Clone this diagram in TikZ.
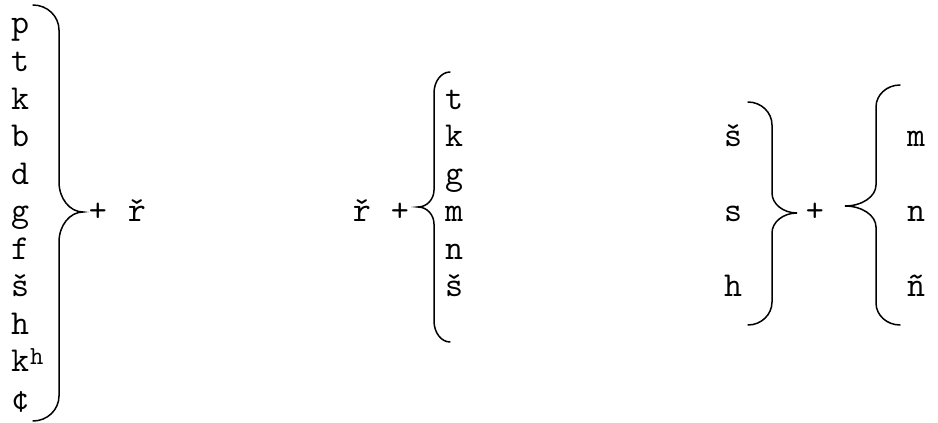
\documentclass[tikz,border=0pt]{standalone}
\usepackage{fontspec}
\begin{document}
\begin{tikzpicture}[x=1pt,y=-1pt,
  lt/.style={inner sep=0pt, anchor=base west, font=\ttfamily\fontsize{35}{37.5}\selectfont},
  op/.style={inner sep=0pt, anchor=base, font=\ttfamily\fontsize{35}{37.5}\selectfont},
  brc/.style={line width=1.5pt, line cap=round}]
\useasboundingbox (0,0) rectangle (938,423);
% brace macro: x0 xs xt y0 ym y1 r1 r2
\newcommand\mybrace[8]{%
 \draw[brc] (#1,#4) .. controls ({#1+0.55*(#2-#1)},#4) and (#2,{#4+0.45*#7}) .. (#2,{#4+#7})
   -- (#2,{#5-#8}) .. controls (#2,{#5-0.45*#8}) and ({#3-0.55*(#3-#2)},#5) .. (#3,#5)
   .. controls ({#3-0.55*(#3-#2)},#5) and (#2,{#5+0.45*#8}) .. (#2,{#5+#8})
   -- (#2,{#6-#7}) .. controls (#2,{#6-0.45*#7}) and ({#1+0.55*(#2-#1)},#6) .. (#1,#6);}
\newcommand\mysup[1]{\kern1pt\raisebox{7pt}{\ttfamily\fontsize{26}{26}\selectfont #1}}
% left group
\foreach \t [count=\i from 0] in {p,t,k,b,d,g,f,š,h,k\mysup{h},¢}
  \node[lt] (l\i) at (11,{34+37.5*\i}) {\t};
\mybrace{33}{59}{83}{5}{212}{421}{25}{30}
\node[op] (lplus) at (98,221.5) {+};
\node[op] (lr) at (137,221.5) {ř};
% middle group
\node[op] (mr) at (362,221.5) {ř};
\node[op] (mplus) at (400,221.5) {+};
\mybrace{450}{434}{418}{72}{207}{342}{21}{17}
\foreach \t [count=\i from 0] in {t,k,g,m,n,š}
  \node[lt] (m\i) at (445,{109+37.5*\i}) {\t};
% right group
\foreach \t [count=\i from 0] in {š,s,h}
  \node[lt] (r\i) at (724,{146.5+75*\i}) {\t};
\mybrace{748}{772}{797}{102}{213}{325}{23}{20}
\node[op] (rplus) at (815,221.5) {+};
\mybrace{900}{876}{845}{85}{206}{325}{22}{21}
\foreach \t [count=\i from 0] in {m,n,ñ}
  \node[lt] (n\i) at (907,{146.5+75*\i}) {\t};
\end{tikzpicture}
\end{document}
